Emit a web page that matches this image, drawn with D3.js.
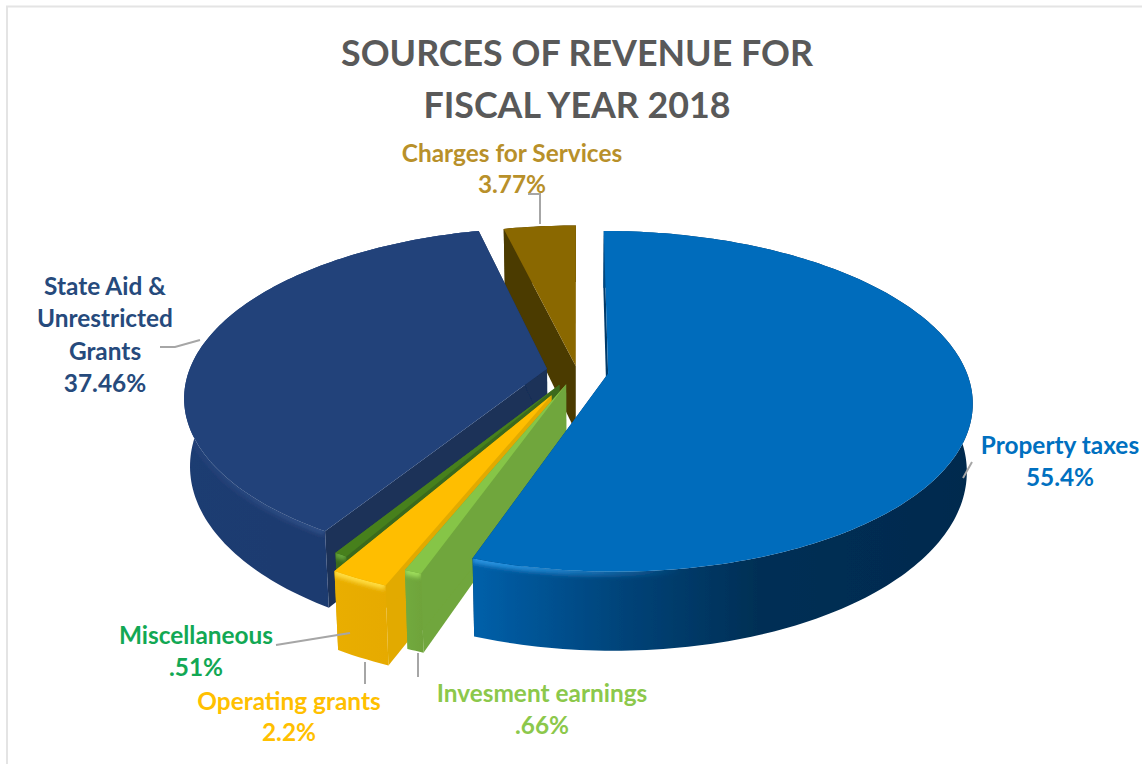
<!DOCTYPE html>
<html>
<head>
<meta charset="utf-8">
<script src="https://cdn.jsdelivr.net/npm/d3@7/dist/d3.min.js"></script>
<style>
  html, body { margin: 0; padding: 0; background: #fff; }
  svg { display: block; }
  text { font-family: Lato, "Open Sans", sans-serif; font-weight: 700; text-anchor: middle; }
</style>
</head>
<body>
<div id="chart"></div>
<script>
// Revenue shares, clockwise from twelve o'clock
const categories = ["Property taxes", "Invesment earnings", "Operating grants", "Miscellaneous", "State Aid & Unrestricted Grants", "Charges for Services"];
const shares = [55.4, 0.66, 2.2, 0.51, 37.46, 3.77];
const shareLabels = ["55.4%", ".66%", "2.2%", ".51%", "37.46%", "3.77%"];

// How far each slice is pulled out of the pie, as a fraction of the radius
const explosion = [0.088, 0.085, 0.16, 0.095, 0.085, 0.03];

const topColors = ["#006cbc", "#86c547", "#ffbe00", "#46801f", "#23437a", "#8a6700"];
const cutColors = ["#003a6b", "#70a63c", "#e2aa00", "#3a6b1c", "#1a3058", "#4b3a02"];
const highlightColors = ["#2a93e0", "#9ddc5c", "#ffdc40", "#66a63a", "#3f659f", "#a07c10"];
const labelColors = ["#0070c0", "#8cc84b", "#ffc000", "#12a854", "#264a7c", "#b8902a"];
const sideStops = [
  [["0", "#0060aa"], ["0.29", "#00447a"], ["0.57", "#002f55"], ["1", "#002a4e"]],
  [["0", "#72aa3e"], ["1", "#6ea33a"]],
  [["0", "#e9ae00"], ["1", "#e6aa00"]],
  [["0", "#3a6b1c"], ["1", "#3a6b1c"]],
  [["0", "#1f3c72"], ["0.6", "#1f3a6e"], ["1", "#1c3361"]],
  [["0", "#4b3a02"], ["1", "#4b3a02"]]
];
// Strength of the edge light across each slice's wall, left to right
const highlightStops = [
  [["0", 1], ["0.08", 0.9], ["0.42", 0], ["1", 0]],
  [["0", 1], ["1", 1]],
  [["0", 1], ["1", 1]],
  [["0", 1], ["1", 1]],
  [["0", 0.1], ["0.5", 0.5], ["1", 1]],
  [["0", 0], ["1", 0]]
];

// Text blocks and leader lines
const titleLines = ["SOURCES OF REVENUE FOR", "FISCAL YEAR 2018"];
const labelBlocks = [
  { slice: 0, x: 1060, lines: ["Property taxes", "55.4%"], y: [454, 486], leader: [[963, 478], [972, 462]] },
  { slice: 1, x: 542, lines: ["Invesment earnings", ".66%"], y: [702, 734], leader: [[418, 653], [418, 677]] },
  { slice: 2, x: 289, lines: ["Operating grants", "2.2%"], y: [710, 741], leader: [[365, 662], [365, 684]] },
  { slice: 3, x: 196, lines: ["Miscellaneous", ".51%"], y: [644, 676], leader: [[276, 645], [350, 633]] },
  { slice: 4, x: 105, lines: ["State Aid &", "Unrestricted", "Grants", "37.46%"], y: [295, 327, 360, 392], leader: [[160, 347], [175, 347], [200, 340]] },
  { slice: 5, x: 512, lines: ["Charges for Services", "3.77%"], y: [162, 193], leader: [[528, 194], [540, 194], [540, 224]] }
];

const width = 1142, height = 764;

// Perspective view of the tilted disc
const view = { cx: 577, cy: 371, rx: 358, ry: 165, persp: 0.163, depth: 66, taper: 0.015 };
function project(u, v, z) {
  const w = 1 / (1 - view.persp * v);
  return [
    view.cx + view.rx * u * w * (1 - view.taper * z),
    view.cy + view.ry * v * w + view.depth * z * w
  ];
}

const pie = d3.pie().sort(null).value(d => d)(shares);
const slices = pie.map((p, i) => {
  const mid = (p.startAngle + p.endAngle) / 2;
  const ou = explosion[i] * Math.sin(mid);
  const ov = -explosion[i] * Math.cos(mid);
  const n = Math.max(4, Math.ceil((p.endAngle - p.startAngle) / 0.02));
  const angles = d3.range(n + 1).map(k => p.startAngle + (p.endAngle - p.startAngle) * k / n);
  const rim = z => angles.map(a => project(ou + Math.sin(a), ov - Math.cos(a), z));
  return { i, apexTop: project(ou, ov, 0), apexBottom: project(ou, ov, 1), rimTop: rim(0), rimBottom: rim(1) };
});

const svg = d3.select("#chart").append("svg").attr("width", width).attr("height", height);
const line = d3.line();
const closed = pts => line(pts) + "Z";
const defs = svg.append("defs");
defs.append("filter").attr("id", "soft").attr("filterUnits", "userSpaceOnUse")
  .attr("x", 0).attr("y", 0).attr("width", width).attr("height", height)
  .append("feGaussianBlur").attr("stdDeviation", 2);
defs.append("filter").attr("id", "edge").attr("filterUnits", "userSpaceOnUse")
  .attr("x", 0).attr("y", 0).attr("width", width).attr("height", height)
  .append("feGaussianBlur").attr("stdDeviation", 0.6);

// Frame along the top and left
svg.append("path").attr("d", line([[7, height], [7, 6.5], [width, 6.5]]))
  .attr("fill", "none").attr("stroke", "#e4e4e4").attr("stroke-width", 2);

// Back to front: pulled-out back slice, left slice, thin wedges, big front slice
const paintOrder = [5, 4, 3, 2, 1, 0];
const pieLayer = svg.append("g").attr("filter", "url(#edge)");

paintOrder.forEach(idx => {
  const s = slices[idx];
  const xs = s.rimBottom.map(p => p[0]).concat(s.rimTop.map(p => p[0]));
  const x0 = d3.min(xs), x1 = d3.max(xs);
  const wallPath = closed(s.rimTop.concat(s.rimBottom.slice().reverse()));

  defs.append("linearGradient").attr("id", "side" + idx)
    .attr("gradientUnits", "userSpaceOnUse")
    .attr("x1", x0).attr("x2", x1).attr("y1", 0).attr("y2", 0)
    .selectAll("stop").data(sideStops[idx]).join("stop")
    .attr("offset", d => d[0]).attr("stop-color", d => d[1]);

  defs.append("linearGradient").attr("id", "light" + idx)
    .attr("gradientUnits", "userSpaceOnUse")
    .attr("x1", x0).attr("x2", x1).attr("y1", 0).attr("y2", 0)
    .selectAll("stop").data(highlightStops[idx]).join("stop")
    .attr("offset", d => d[0]).attr("stop-color", highlightColors[idx]).attr("stop-opacity", d => d[1]);

  defs.append("clipPath").attr("id", "wall" + idx).append("path").attr("d", wallPath);

  const g = pieLayer.append("g");
  const firstTop = s.rimTop[0], firstBottom = s.rimBottom[0];
  const lastTop = s.rimTop[s.rimTop.length - 1], lastBottom = s.rimBottom[s.rimBottom.length - 1];

  // Flat cut faces from the centre out to the rim
  [[firstTop, firstBottom], [lastTop, lastBottom]].forEach(pair => {
    g.append("path")
      .attr("d", closed([s.apexTop, pair[0], pair[1], s.apexBottom]))
      .attr("fill", cutColors[idx]);
  });

  // Curved outer wall
  g.append("path").attr("d", wallPath).attr("fill", "url(#side" + idx + ")");

  // Light catching the rounded edge of the wall
  g.append("g").attr("clip-path", "url(#wall" + idx + ")")
    .append("path")
    .attr("d", line(s.rimTop))
    .attr("fill", "none")
    .attr("stroke", "url(#light" + idx + ")")
    .attr("stroke-width", 9)
    .attr("filter", "url(#soft)");

  // Top face
  g.append("path")
    .attr("d", closed([s.apexTop].concat(s.rimTop)))
    .attr("fill", topColors[idx]);
});

// Leader lines
labelBlocks.forEach(b => {
  svg.append("path").attr("d", line(b.leader))
    .attr("fill", "none").attr("stroke", "#a6a6a6").attr("stroke-width", 2);
});

// Data labels
labelBlocks.forEach(b => {
  b.lines.forEach((t, k) => {
    svg.append("text").attr("x", b.x).attr("y", b.y[k])
      .attr("font-size", 24.4).attr("fill", labelColors[b.slice]).text(t);
  });
});

// Title
titleLines.forEach((t, k) => {
  svg.append("text").attr("x", 577).attr("y", 66 + k * 52)
    .attr("font-size", 35.8).attr("fill", "#595959").text(t);
});
</script>
</body>
</html>
